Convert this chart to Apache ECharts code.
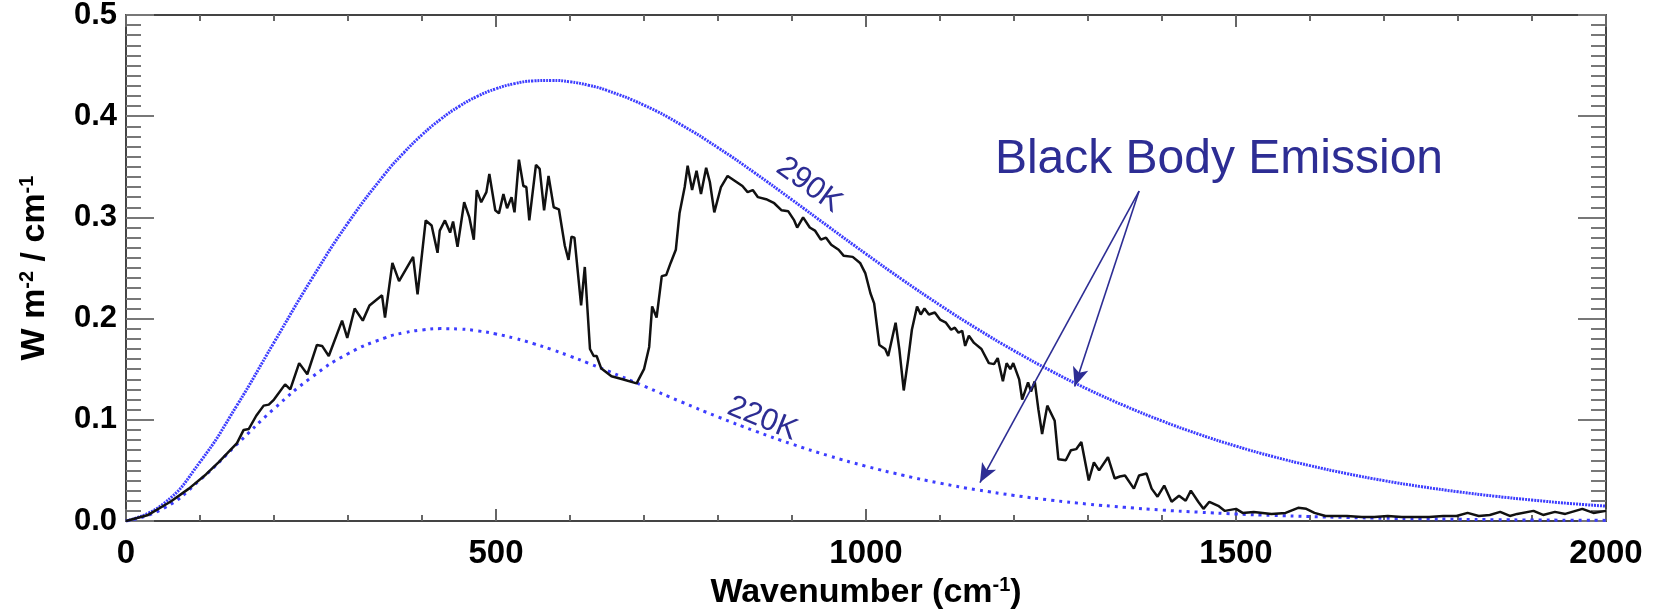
<!DOCTYPE html>
<html>
<head>
<meta charset="utf-8">
<title>Black Body Emission</title>
<script src="https://cdn.jsdelivr.net/npm/echarts@6/dist/echarts.min.js"></script>
<style>
  html, body { margin: 0; padding: 0; background: #fff; }
  #chart { width: 1658px; height: 611px; }
</style>
</head>
<body>
<div id="chart"></div>
<script>
// black body curves (W m-2 / cm-1), denser round the peaks
var bbWavenumber = [0, 50, 100, 150, 200, 250, 300, 350, 375, 400, 425, 450, 475, 500, 525, 550, 575, 600, 625, 650,
  700, 750, 800, 850, 900, 950, 1000, 1050, 1100, 1150, 1200, 1250, 1300, 1350, 1400, 1450, 1500, 1550, 1600, 1650,
  1700, 1750, 1800, 1850, 1900, 1950, 2000];
var bb290 = [0, 0.0166, 0.0583, 0.1143, 0.1764, 0.2380, 0.2945, 0.3430, 0.3636, 0.3816, 0.3969, 0.4096, 0.4197, 0.4271,
  0.4322, 0.4349, 0.4354, 0.4340, 0.4306, 0.4255, 0.4109, 0.3916, 0.3689, 0.3438, 0.3174, 0.2905, 0.2639, 0.2380,
  0.2133, 0.1900, 0.1683, 0.1483, 0.1301, 0.1137, 0.0989, 0.0857, 0.0740, 0.0637, 0.0547, 0.0468, 0.0399, 0.0340,
  0.0289, 0.0245, 0.0207, 0.0174, 0.0147];
var bb220 = [0, 0.0121, 0.0405, 0.0758, 0.1109, 0.1416, 0.1653, 0.1810, 0.1859, 0.1888, 0.1901, 0.1897, 0.1879, 0.1848,
  0.1806, 0.1754, 0.1695, 0.1629, 0.1559, 0.1486, 0.1333, 0.1178, 0.1029, 0.0889, 0.0760, 0.0644, 0.0541, 0.0452,
  0.0374, 0.0308, 0.0253, 0.0206, 0.0167, 0.0135, 0.0108, 0.0087, 0.0069, 0.0055, 0.0044, 0.0035, 0.0027, 0.0022,
  0.0017, 0.0013, 0.0010, 0.0008, 0.0006];

// measured spectrum (black line)
var specWavenumber = [0, 30, 60, 85, 108, 125, 137, 150, 159, 166, 176, 186, 193, 200, 215, 222, 234, 245, 258, 265,
  274, 292, 299, 309, 320, 329, 346, 350, 360, 369, 388, 394, 405, 413, 421, 424, 431, 438, 442, 448,
  457, 464, 470, 474, 480, 487, 491, 499, 504, 510, 515, 521, 525, 531, 537, 541, 545, 554, 559, 565,
  571, 578, 585, 593, 598, 602, 606, 615, 620, 627, 632, 636, 642, 656, 671, 690, 700, 707, 711, 717,
  724, 730, 736, 743, 748, 755, 759, 765, 771, 777, 784, 789, 795, 804, 813, 823, 833, 840, 847, 854,
  865, 876, 886, 895, 903, 907, 915, 924, 931, 939, 946, 953, 963, 970, 982, 992, 999, 1006, 1011, 1018,
  1026, 1030, 1040, 1045, 1051, 1057, 1062, 1069, 1074, 1079, 1085, 1093, 1100, 1108, 1115, 1120, 1125, 1130, 1134, 1139,
  1146, 1156, 1166, 1173, 1178, 1185, 1190, 1195, 1199, 1207, 1211, 1219, 1223, 1228, 1233, 1238, 1245, 1255, 1260, 1270,
  1277, 1284, 1291, 1301, 1308, 1315, 1327, 1336, 1343, 1350, 1362, 1369, 1379, 1386, 1394, 1403, 1413, 1423, 1432, 1439,
  1449, 1456, 1464, 1476, 1485, 1500, 1509, 1524, 1548, 1567, 1584, 1595, 1606, 1621, 1650, 1670, 1687, 1705, 1724, 1745,
  1761, 1780, 1798, 1813, 1828, 1843, 1857, 1870, 1880, 1902, 1915, 1931, 1945, 1968, 1983, 2000];
var specRadiance = [0, 0.006, 0.019, 0.032, 0.046, 0.058, 0.067, 0.077, 0.090, 0.091, 0.104, 0.114, 0.115, 0.120, 0.135, 0.130, 0.156, 0.145, 0.174, 0.173,
  0.163, 0.198, 0.181, 0.210, 0.198, 0.213, 0.223, 0.201, 0.255, 0.237, 0.261, 0.224, 0.297, 0.292, 0.265, 0.287, 0.297, 0.285, 0.296, 0.271,
  0.315, 0.300, 0.278, 0.327, 0.315, 0.325, 0.343, 0.307, 0.304, 0.323, 0.309, 0.320, 0.305, 0.357, 0.331, 0.330, 0.297, 0.352, 0.348, 0.307,
  0.341, 0.310, 0.308, 0.272, 0.258, 0.281, 0.280, 0.213, 0.251, 0.170, 0.163, 0.163, 0.151, 0.143, 0.140, 0.136, 0.150, 0.172, 0.212, 0.201,
  0.242, 0.243, 0.255, 0.268, 0.304, 0.330, 0.351, 0.327, 0.346, 0.323, 0.349, 0.335, 0.305, 0.330, 0.341, 0.336, 0.331, 0.325, 0.327, 0.320,
  0.318, 0.314, 0.307, 0.306, 0.297, 0.290, 0.300, 0.290, 0.287, 0.278, 0.280, 0.273, 0.268, 0.262, 0.261, 0.255, 0.245, 0.225, 0.215, 0.174,
  0.170, 0.163, 0.196, 0.170, 0.129, 0.160, 0.189, 0.212, 0.204, 0.210, 0.204, 0.206, 0.199, 0.196, 0.189, 0.191, 0.186, 0.188, 0.173, 0.183,
  0.176, 0.170, 0.156, 0.155, 0.161, 0.138, 0.156, 0.150, 0.156, 0.140, 0.120, 0.137, 0.128, 0.138, 0.110, 0.086, 0.114, 0.099, 0.061, 0.060,
  0.070, 0.071, 0.078, 0.040, 0.058, 0.050, 0.063, 0.042, 0.044, 0.045, 0.032, 0.045, 0.047, 0.032, 0.024, 0.035, 0.019, 0.025, 0.020, 0.030,
  0.019, 0.012, 0.019, 0.015, 0.010, 0.012, 0.008, 0.009, 0.007, 0.008, 0.013, 0.012, 0.008, 0.005, 0.005, 0.004, 0.004, 0.005, 0.004, 0.004,
  0.004, 0.005, 0.005, 0.008, 0.005, 0.006, 0.009, 0.005, 0.007, 0.010, 0.006, 0.009, 0.007, 0.012, 0.008, 0.010];

var xTickValues = [0, 500, 1000, 1500, 2000];
var yTickValues = [0.0, 0.1, 0.2, 0.3, 0.4, 0.5];

// annotation texts and where they sit (data units)
var noteText = ['Black Body Emission', '290K', '220K'];
var noteWavenumber = [1477, 923, 860];
var noteRadiance = [0.357, 0.332, 0.101];
// arrows: one start, two tips
var arrowStart = [1369, 0.326];
var arrowTips = [[1282, 0.133], [1154, 0.038]];

function pairs(xs, ys) {
  return xs.map(function (x, i) { return [x, ys[i]]; });
}

var SANS = '"Liberation Sans", Arial, Helvetica, sans-serif';
var NOTE_BLUE = '#2d2d94';
var CURVE_BLUE = '#3d3dff';

var chart = echarts.init(document.getElementById('chart'));

var frameLine = { show: true, onZero: false, lineStyle: { color: '#444', width: 2 } };

function xAxisOpt(pos) {
  return {
    type: 'value',
    position: pos,
    min: xTickValues[0],
    max: xTickValues[xTickValues.length - 1],
    interval: xTickValues[1] - xTickValues[0],
    axisLine: frameLine,
    axisTick: { show: true, inside: true, length: 12, lineStyle: { color: '#666', width: 2 } },
    minorTick: { show: true, splitNumber: 5, length: 6, lineStyle: { color: '#666', width: 2 } },
    splitLine: { show: false },
    minorSplitLine: { show: false },
    axisLabel: {
      show: pos === 'bottom',
      fontFamily: SANS, fontSize: 33, fontWeight: 'bold', color: '#000', margin: 16,
      formatter: function (v) { return String(v); }
    }
  };
}

function yAxisOpt(pos) {
  return {
    type: 'value',
    position: pos,
    min: yTickValues[0],
    max: yTickValues[yTickValues.length - 1],
    interval: 0.1,
    axisLine: frameLine,
    axisTick: { show: true, inside: true, length: 28, lineStyle: { color: '#777', width: 2 } },
    minorTick: { show: true, splitNumber: 10, length: 15, lineStyle: { color: '#777', width: 2 } },
    splitLine: { show: false },
    minorSplitLine: { show: false },
    axisLabel: {
      show: pos === 'left',
      fontFamily: SANS, fontSize: 31, fontWeight: 'bold', color: '#000', margin: 9,
      formatter: function (v) { return v.toFixed(1); }
    }
  };
}

var xBottom = xAxisOpt('bottom');
xBottom.name = 'Wavenumber (cm{sup|-1})';
xBottom.nameLocation = 'middle';
xBottom.nameGap = 54;
xBottom.nameTextStyle = {
  fontFamily: SANS, fontSize: 34, fontWeight: 'bold', color: '#000', lineHeight: 36,
  rich: { sup: { fontFamily: SANS, fontSize: 20, fontWeight: 'bold', color: '#000', verticalAlign: 'top', lineHeight: 36 } }
};

var yLeft = yAxisOpt('left');
yLeft.name = 'W m{sup|-2} / cm{sup|-1}';
yLeft.nameLocation = 'middle';
yLeft.nameRotate = 90;
yLeft.nameGap = 73;
yLeft.nameTextStyle = {
  fontFamily: SANS, fontSize: 34, fontWeight: 'bold', color: '#000', lineHeight: 36,
  rich: { sup: { fontFamily: SANS, fontSize: 20, fontWeight: 'bold', color: '#000', verticalAlign: 'top', lineHeight: 36 } }
};

var notes = noteText.map(function (t, i) {
  return { name: t, value: [noteWavenumber[i], noteRadiance[i]] };
});
notes[0].label = { fontSize: 48, rotate: 0 };
notes[1].label = { fontSize: 31, rotate: -36 };
notes[2].label = { fontSize: 31, rotate: -22 };

var option = {
  animation: false,
  backgroundColor: '#fff',
  grid: { left: 126, right: 52, top: 15, bottom: 90, containLabel: false, outerBoundsMode: 'none' },
  xAxis: [xBottom, xAxisOpt('top')],
  yAxis: [yLeft, yAxisOpt('right')],
  series: [
    {
      name: '290K', type: 'line', data: pairs(bbWavenumber, bb290),
      smooth: true, showSymbol: false, silent: true,
      lineStyle: { color: CURVE_BLUE, width: 3, type: [2, 1] }
    },
    {
      name: '220K', type: 'line', data: pairs(bbWavenumber, bb220),
      smooth: true, showSymbol: false, silent: true,
      lineStyle: { color: CURVE_BLUE, width: 3, type: [3, 5] }
    },
    {
      name: 'spectrum', type: 'line', data: pairs(specWavenumber, specRadiance),
      showSymbol: false, silent: true, z: 3,
      lineStyle: { color: '#111', width: 2.5 },
      markLine: {
        silent: true,
        animation: false,
        symbol: ['none', 'arrow'],
        symbolSize: [12, 19],
        label: { show: false },
        lineStyle: { color: NOTE_BLUE, width: 1.6, type: 'solid', opacity: 1 },
        data: arrowTips.map(function (tip) {
          return [{ coord: arrowStart }, { coord: tip }];
        })
      }
    },
    {
      name: 'notes', type: 'scatter', data: notes, symbolSize: 0, silent: true, z: 4,
      label: {
        show: true, position: 'inside', formatter: '{b}',
        fontFamily: SANS, color: NOTE_BLUE, opacity: 1, align: 'center', verticalAlign: 'middle'
      }
    }
  ]
};

chart.setOption(option);
</script>
</body>
</html>
